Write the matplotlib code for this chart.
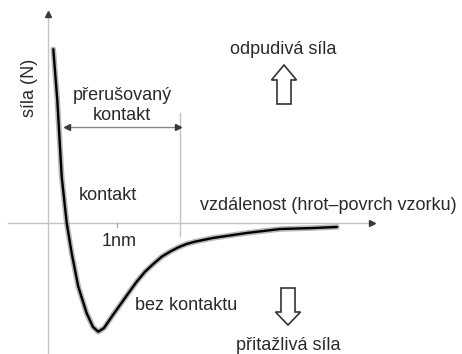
import numpy as np
import matplotlib.pyplot as plt
from matplotlib.patches import Polygon
from matplotlib.transforms import Affine2D

plt.rcParams['font.family'] = ['Liberation Sans', 'DejaVu Sans']

# tip-sample distance (nm) and force (arbitrary units, minimum = -1)
distance = [0.081, 0.139, 0.203, 0.275, 0.348, 0.443, 0.565, 0.657, 0.733,
            0.816, 0.928, 1.048, 1.168, 1.290, 1.410, 1.530, 1.652, 1.772,
            1.893, 2.014, 2.135, 2.396, 2.888, 3.367, 3.845, 4.193]
force = [1.591, 1.126, 0.422, 0.0, -0.281, -0.587, -0.831, -0.957, -1.0,
         -0.966, -0.862, -0.755, -0.648, -0.541, -0.450, -0.379, -0.312,
         -0.266, -0.226, -0.195, -0.174, -0.140, -0.094, -0.058, -0.049,
         -0.039]

# range of intermittent contact (nm)
intermittent = [0.25, 1.917]
tick_nm = 1.0

W, H = 462, 354
fig = plt.figure(figsize=(W / 100, H / 100), dpi=100)
ax = fig.add_axes([0, 0, 1, 1])

# origin of the axes in pixels and pixels per unit
x0, y0 = 47.7, 222.7
sx, sy = 69.0, 109.0
ax.set_xlim(-x0 / sx, (W - x0) / sx)
ax.set_ylim(-(H - y0) / sy, y0 / sy)
ax.axis('off')

# pixel coordinates (top-left origin) for the decorations
px = Affine2D().scale(1 / W, -1 / H).translate(0, 1) + fig.transFigure

axis_col = '#c4c4c4'
head_col = '#3a3a3a'

# axes
ax.plot([8, 370], [y0, y0], color=axis_col, lw=1, transform=px)
ax.plot([372], [y0], marker='>', ms=4, color=head_col, transform=px)
ax.plot([x0, x0], [16, H], color=axis_col, lw=1, transform=px)
ax.plot([x0], [14], marker='^', ms=4, color=head_col, transform=px)

# 1 nm tick
ax.plot([tick_nm, tick_nm], [0, -0.04], color='#aaaaaa', lw=1)

# force curve with soft grey halo
ax.plot(distance, force, color='#999999', lw=4, alpha=0.7,
        solid_capstyle='round', solid_joinstyle='round')
ax.plot(distance, force, color='black', lw=1.7,
        solid_capstyle='round', solid_joinstyle='round')

# intermittent contact range
xa, xb = intermittent
ax.plot([xb, xb], [1.006, -0.12], color=axis_col, lw=1)
ax.plot([xa + 0.03, xb - 0.03], [0.878, 0.878], color='#888888', lw=1)
ax.plot([xa + 0.03], [0.878], marker='<', ms=4, color=head_col)
ax.plot([xb - 0.03], [0.878], marker='>', ms=4, color=head_col)

fs = 13
txt = dict(color='#2a2a2a', fontsize=fs, transform=px)
ax.text(30, 88, 'síla (N)', rotation=90, ha='center', va='center', **txt)
ax.text(122, 96, 'přerušovaný', ha='center', va='center', **txt)
ax.text(122, 115, 'kontakt', ha='center', va='center', **txt)
ax.text(108, 196, 'kontakt', ha='center', va='center', **txt)
ax.text(119, 241, '1nm', ha='center', va='center', **txt)
ax.text(328, 205, 'vzdálenost (hrot–povrch vzorku)', ha='center', va='center', **txt)
ax.text(135, 305, 'bez kontaktu', ha='left', va='center', **txt)
ax.text(283, 50, 'odpudivá síla', ha='center', va='center', **txt)
ax.text(288, 345, 'přitažlivá síla', ha='center', va='center', **txt)

# hollow arrows: repulsive (up) and attractive (down)
up = [(284, 65), (296.5, 80), (291, 80), (291, 104), (277, 104), (277, 80), (271.5, 80)]
down = [(288, 325), (300.5, 312), (295, 312), (295, 288), (281, 288), (281, 312), (275.5, 312)]
for pts in (up, down):
    ax.add_patch(Polygon(pts, closed=True, facecolor='white', edgecolor='#333333',
                         lw=1.2, transform=px))

fig.savefig('out.png', dpi=100)
